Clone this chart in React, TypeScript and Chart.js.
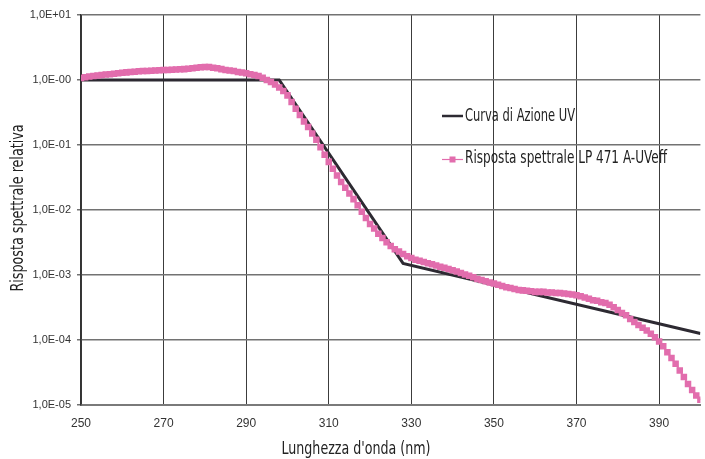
import React, { useEffect, useRef } from "react";
import { Chart, registerables } from "chart.js";

Chart.register(...registerables);

// ---------- DATA ----------
const xTicks = [250, 270, 290, 310, 330, 350, 370, 390];
const yTicks = [1e-5, 1e-4, 1e-3, 1e-2, 1e-1, 1e0, 1e1];
const yTickLabels = ["1,0E-05", "1,0E-04", "1,0E-03", "1,0E-02", "1,0E-01", "1,0E-00", "1,0E+01"];

const seriesNames = ["Curva di Azione UV", "Risposta spettrale LP 471 A-UVeff"];

// Action curve (breakpoints)
const actionX = [250, 298, 328, 400];
const actionY = [1.0, 1.0, 0.00151, 0.000126];

// Spectral response, one value per nm from 250 to 400
const responseStart = 250;
const responseY = [
  1.07, 1.10, 1.13, 1.15, 1.17, 1.19, 1.21, 1.23, 1.25, 1.27,
  1.29, 1.31, 1.33, 1.34, 1.36, 1.37, 1.38, 1.39, 1.40, 1.41,
  1.42, 1.43, 1.44, 1.45, 1.46, 1.47, 1.49, 1.51, 1.54, 1.57,
  1.59, 1.58, 1.55, 1.51, 1.47, 1.43, 1.40, 1.37, 1.33, 1.30,
  1.27, 1.23, 1.19, 1.15, 1.08, 1.00, 0.93, 0.85, 0.77, 0.68,
  0.58, 0.46, 0.36, 0.29, 0.23, 0.19, 0.15, 0.12, 0.092, 0.071,
  0.055, 0.043, 0.034, 0.027, 0.022, 0.018, 0.0147, 0.0118, 0.0094, 0.0075,
  0.0061, 0.0052, 0.0043, 0.0037, 0.0032, 0.0028, 0.0025, 0.0023, 0.0021, 0.00195,
  0.00182, 0.00172, 0.00165, 0.00158, 0.00152, 0.00146, 0.0014, 0.00134, 0.00129, 0.00124,
  0.00118, 0.00113, 0.00107, 0.00102, 0.00097, 0.00092, 0.00087, 0.00084, 0.0008, 0.00077,
  0.00074, 0.00071, 0.00068, 0.00065, 0.00063, 0.00061, 0.00059, 0.00058, 0.00057, 0.00056,
  0.00055, 0.00055, 0.00055, 0.00054, 0.00054, 0.00053, 0.00053, 0.00052, 0.00051, 0.0005,
  0.00049, 0.00047, 0.00045, 0.00043, 0.00041, 0.0004, 0.00038, 0.00037, 0.00035, 0.00032,
  0.00029, 0.00026, 0.00024, 0.00021, 0.00019, 0.00017, 0.000155, 0.00014, 0.000125, 0.00011,
  0.000095, 0.00008, 0.000065, 0.000053, 0.000043, 0.000034, 0.000027, 0.000021, 0.000017, 0.000014,
  0.000012,
];

const xTitle = "Lunghezza d'onda (nm)";
const yTitle = "Risposta spettrale relativa";

// ---------- STYLE ----------
const PINK = "#e26dad";
const DARK = "#2d2a32";
const NARROW = '"Liberation Sans Narrow", "Arial Narrow", "DejaVu Sans Condensed", sans-serif';
const SANS = '"Liberation Sans", Arial, sans-serif';

// draw text horizontally condensed to a target width (condensed typeface look)
function drawCondensed(
  ctx: CanvasRenderingContext2D,
  text: string,
  x: number,
  y: number,
  width: number,
  align: "left" | "center",
  rotate = false
) {
  ctx.save();
  ctx.font = `17px ${NARROW}`;
  ctx.textBaseline = "middle";
  ctx.textAlign = align;
  const w = ctx.measureText(text).width;
  const sx = Math.min(1, width / w);
  ctx.translate(x, y);
  if (rotate) ctx.rotate(-Math.PI / 2);
  ctx.scale(sx, 1);
  ctx.fillText(text, 0, 0);
  ctx.restore();
}

const overlayPlugin = {
  id: "overlay",
  afterDraw(chart: any) {
    const ctx = chart.ctx as CanvasRenderingContext2D;
    ctx.save();
    ctx.fillStyle = "#222";
    // axis titles
    drawCondensed(ctx, xTitle, 356, 450, 149, "center");
    drawCondensed(ctx, yTitle, 19, 208, 167, "center", true);

    // legend entry 1
    ctx.strokeStyle = DARK;
    ctx.lineWidth = 2.5;
    ctx.beginPath();
    ctx.moveTo(442, 116);
    ctx.lineTo(463, 116);
    ctx.stroke();
    ctx.fillStyle = "#222";
    drawCondensed(ctx, seriesNames[0], 465, 117, 110, "left");
    // legend entry 2
    ctx.strokeStyle = PINK;
    ctx.lineWidth = 1.2;
    ctx.beginPath();
    ctx.moveTo(442, 159.5);
    ctx.lineTo(463, 159.5);
    ctx.stroke();
    ctx.fillStyle = PINK;
    ctx.fillRect(449.5, 156.5, 6, 6);
    ctx.fillStyle = "#222";
    drawCondensed(ctx, seriesNames[1], 465, 159, 202, "left");
    ctx.restore();
  },
};

export default function App() {
  const canvasRef = useRef<HTMLCanvasElement | null>(null);

  useEffect(() => {
    document.body.style.margin = "0";
    const canvas = canvasRef.current;
    if (!canvas) return;

    const responseData = responseY.map((v, i) => ({ x: responseStart + i, y: v }));
    const actionData = actionX.map((x, i) => ({ x, y: actionY[i] }));

    const chart = new Chart(canvas, {
      type: "line",
      data: {
        datasets: [
          {
            label: seriesNames[0],
            data: actionData,
            borderColor: DARK,
            backgroundColor: DARK,
            borderWidth: 3,
            pointRadius: 0,
            tension: 0,
            order: 2,
          },
          {
            label: seriesNames[1],
            data: responseData,
            borderColor: PINK,
            backgroundColor: PINK,
            borderWidth: 1.5,
            pointStyle: "rect",
            pointRadius: 4.6,
            pointBorderWidth: 0,
            tension: 0,
            order: 1,
          },
        ],
      },
      options: {
        animation: false,
        responsive: true,
        maintainAspectRatio: false,
        layout: { padding: { top: 15, right: 0, left: 0, bottom: 0 } },
        plugins: {
          legend: { display: false },
          tooltip: { enabled: false },
        },
        scales: {
          x: {
            type: "linear",
            min: 250,
            max: 400,
            afterBuildTicks: (s: any) => {
              s.ticks = xTicks.map((v) => ({ value: v }));
            },
            afterFit: (s: any) => {
              s.height = 54;
            },
            grid: { color: "#3c3c3c", lineWidth: 1, drawTicks: false },
            border: { color: "#7a7a7a", width: 2 },
            ticks: {
              color: "#333",
              font: { family: SANS, size: 12 },
              padding: 11,
              autoSkip: false,
              maxRotation: 0,
            },
          },
          y: {
            type: "logarithmic",
            min: 1e-5,
            max: 1e1,
            afterBuildTicks: (s: any) => {
              s.ticks = yTicks.map((v) => ({ value: v }));
            },
            afterFit: (s: any) => {
              s.width = 81;
            },
            grid: { color: "#727272", lineWidth: 1.5, tickLength: 4 },
            border: { color: "#333", width: 1.5 },
            ticks: {
              color: "#333",
              font: { family: SANS, size: 11 },
              padding: 6,
              autoSkip: false,
              callback: (value: any) => {
                const lv = Math.log10(Number(value));
                const idx = yTicks.findIndex((t) => Math.abs(Math.log10(t) - lv) < 1e-6);
                return idx >= 0 ? yTickLabels[idx] : "";
              },
            },
          },
        },
      },
      plugins: [overlayPlugin],
    });

    return () => chart.destroy();
  }, []);

  return (
    <div style={{ position: "relative", width: 705, height: 459 }}>
      <canvas ref={canvasRef} />
    </div>
  );
}
